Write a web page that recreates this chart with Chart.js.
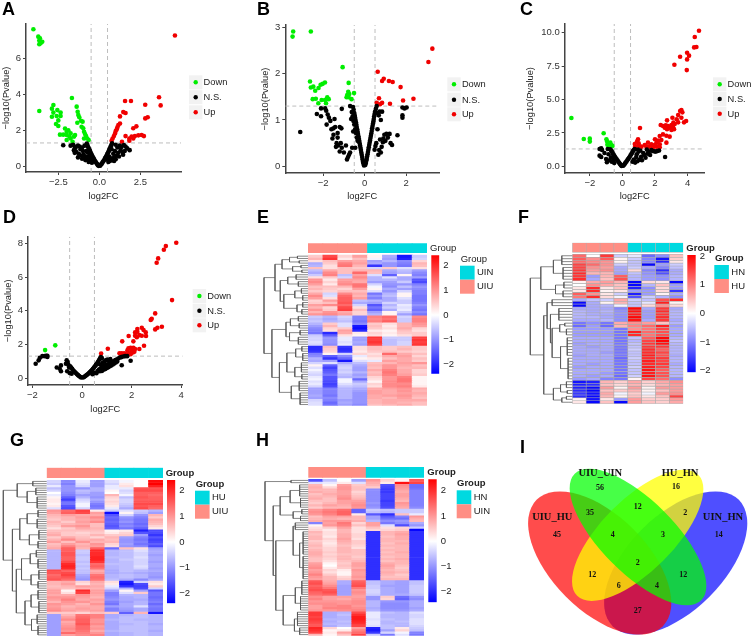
<!DOCTYPE html>
<html>
<head>
<meta charset="utf-8">
<style>
  html, body { margin: 0; padding: 0; background: #fff; }
  body { position: relative; width: 753px; height: 638px; overflow: hidden; }
  canvas { position: absolute; left: 0; top: 0; }
</style>
<script src="https://cdn.jsdelivr.net/npm/chart.js@4"></script>
</head>
<body>
<script>
// ---- volcano data: [log2FC, -log10(Pvalue)] ----
const downA = [[-4.02,7.6],[-3.72,7.19],[-3.62,7.1],[-3.66,6.97],[-3.48,6.91],[-3.58,6.82],[-3.66,6.77],[-3.66,3.07],[-2.8,3.4],[-2.89,3.2],[-2.56,3.12],[-2.36,2.98],[-2.8,2.98],[-2.36,2.79],[-2.89,2.75],[-2.6,2.79],[-2.5,2.55],[-2.64,2.35],[-2.5,2.24],[-2.4,1.76],[-2.2,1.76],[-2.09,2.1],[-1.89,2],[-1.99,1.92],[-1.75,1.83],[-1.99,1.74],[-1.83,1.65],[-1.48,1.74],[-1.54,1.65],[-1.99,1.46],[-1.75,1.55],[-1.63,1.37],[-1.67,3.79],[-1.38,3.31],[-1.32,3.03],[-1.28,2.85],[-1.22,2.72],[-1.34,2.42],[-1.12,2.53],[-1.02,2.48],[-1.08,2.2],[-.98,2.11],[-.93,1.92],[-.87,1.79],[-.81,1.68],[-.73,1.55],[-.93,1.55],[-.65,1.46]];
const nsA = [[-.04,.03],[-.09,.07],[-.13,.13],[-.18,.19],[-.22,.25],[-.27,.3],[-.31,.38],[-.35,.45],[-.39,.5],[-.43,.58],[-.47,.65],[-.51,.72],[-.55,.8],[-.58,.88],[-.62,.95],[-.66,1.03],[-.7,1.1],[-.73,1.18],[-.76,1.26],[.05,.04],[.1,.1],[.14,.14],[.19,.21],[.23,.27],[.28,.33],[.32,.4],[.36,.47],[.41,.53],[.45,.6],[.48,.68],[.53,.75],[.57,.83],[.6,.9],[.64,.98],[.67,1.06],[.71,1.13],[.75,1.2],[.78,1.28],[-2.2,1.17],[-1.75,1.15],[-1.6,1.2],[-1.5,1.1],[-1.45,1.02],[-1.55,.9],[-1.4,.8],[-1.3,1.15],[-1.2,1.1],[-1.15,.95],[-1.05,1.05],[-1,.85],[-1.25,.7],[-1.1,.6],[-.95,.65],[-.9,.5],[-.85,.35],[-1.05,.42],[-.8,.85],[-.75,.55],[-.7,.38],[-.65,.25],[-.6,.6],[-.55,.42],[-.5,.28],[-.45,.2],[-1.5,.75],[-1.3,.5],[-.9,1.15],[-.72,.78],[1,1.2],[1.1,1.05],[1.25,1.15],[1.35,1.08],[1.5,1.18],[1.6,1.1],[1.7,1],[1.85,.9],[1.55,.85],[1.4,.8],[1.3,.9],[1.15,.75],[1.05,.6],[.95,.85],[.9,.5],[.85,.7],[.8,.35],[.7,.45],[.65,.3],[.6,.55],[.55,.25],[.5,.38],[1.2,.55],[1.45,.65],[.9,.3],[1,.4],[.75,.95]];
const upA = [[4.61,7.25],[3.64,3.83],[3.74,3.38],[2.8,3.42],[1.93,3.62],[1.57,3.62],[1.46,3.01],[1.6,2.96],[1.26,2.77],[2.8,2.66],[2.95,2.72],[1.26,2.38],[1.16,2.29],[1.1,2.16],[1.06,2.05],[1,1.96],[.96,1.83],[.89,1.68],[.81,1.55],[.75,1.42],[2.07,2.11],[2.26,2.22],[1.6,1.68],[1.83,1.55],[1.97,1.65],[2.17,1.68],[2.38,1.72],[2.58,1.74],[2.72,1.68],[1.38,1.37],[1.83,1.42],[2.07,1.55]];

const downB = [[-3.44,2.91],[-3.47,2.8],[-2.59,2.91],[-1.06,2.14],[-2.63,1.83],[-2.59,1.7],[-2.47,1.72],[-2.38,1.63],[-2.22,1.69],[-2.12,1.76],[-2.02,1.78],[-1.91,1.81],[-.77,1.8],[-2.5,1.45],[-2.35,1.46],[-2.23,1.36],[-2.07,1.43],[-1.86,1.36],[-1.8,1.49],[-1.73,1.45],[-.79,1.61],[-.84,1.54],[-.77,1.49],[-.51,1.58],[-.63,1.45],[-.74,1.56],[-.87,1.49],[-1.91,1.43]];
const nsB = [[-.03,.02],[-.06,.06],[-.08,.1],[-.1,.15],[-.12,.2],[-.14,.25],[-.16,.3],[-.18,.35],[-.2,.4],[-.22,.45],[-.24,.5],[-.26,.55],[-.28,.6],[-.3,.65],[-.32,.7],[-.34,.75],[-.36,.8],[-.38,.85],[-.4,.9],[-.42,.95],[-.44,1],[-.46,1.05],[-.48,1.1],[-.5,1.15],[-.53,1.22],[-.56,1.28],[-.34,.55],[-.38,.62],[-.42,.72],[-.46,.8],[-.5,.9],[-.54,.98],[-.58,1.08],[-.62,1.17],[-.7,1.3],[-.45,.4],[-.55,.75],[-.65,1.02],[.03,.03],[.06,.07],[.08,.12],[.1,.16],[.12,.21],[.14,.26],[.16,.31],[.18,.36],[.2,.41],[.22,.46],[.24,.51],[.26,.56],[.28,.61],[.3,.66],[.32,.71],[.34,.76],[.36,.82],[.38,.87],[.4,.92],[.42,.97],[.44,1.02],[.46,1.08],[.48,1.13],[.5,1.18],[.54,1.24],[.58,1.3],[.48,.36],[.52,.44],[.56,.5],[.62,1.15],[.68,1.1],[.72,1.18],[.78,1],[.84,1.18],[.62,.8],[.74,.58],[.82,.42],[.88,.52],[.9,.6],[.95,.68],[1,.55],[1.05,.7],[1.12,.62],[1.2,.7],[1.25,.5],[1.32,.46],[1.58,.67],[.7,.35],[.66,.25],[.78,.3],[-.6,.4],[-.7,.3],[-.75,.25],[-.8,.2],[-.85,.15],[-.9,.45],[-1,.3],[-1.1,.4],[-1.15,.5],[-1.2,.32],[-1.3,.62],[-1.35,.5],[-1.3,.72],[-1.2,.85],[-1.12,.82],[-1.42,.85],[-1.5,.82],[-1.5,.68],[-1.55,.6],[-1.28,.45],[-1.38,.42],[-1.6,.8],[-1.45,1.02],[-1.65,.98],[-1.72,1.05],[-1.78,1.12],[-1.85,1.2],[-1.9,1.25],[-1.83,.9],[-2.1,1.25],[-2.3,1.13],[-2.1,1.08],[-3.1,.74],[1.82,1.27],[1.82,1.1],[1.82,1.05],[2.02,1.27],[1.92,1.25],[-1.1,1.24]];
const upB = [[3.26,2.54],[3.07,2.25],[.63,2.04],[.92,1.89],[.84,1.84],[1.17,1.84],[1.35,1.82],[1.73,1.71],[2.35,1.46],[1.85,1.42],[1.22,1.35],[.69,1.47],[.58,1.37],[.84,1.37],[.74,1.34]];

const downC = [[-3.13,3.62],[-2.37,2.04],[-2,2.07],[-2,1.85],[-1.15,2.47],[-.98,2.02],[-.94,1.85],[-.82,1.72],[-.92,1.62],[-.74,1.77],[-.67,1.6],[-.84,1.52],[-.72,1.47],[-.61,1.52]];
const nsC = [[-.05,.03],[-.1,.1],[-.15,.18],[-.2,.26],[-.25,.35],[-.3,.44],[-.35,.52],[-.4,.6],[-.45,.7],[-.5,.8],[-.55,.9],[-.6,1],[-.65,1.12],[-.7,1.2],[-.75,1.28],[.05,.04],[.1,.11],[.15,.2],[.2,.28],[.25,.36],[.3,.45],[.35,.54],[.4,.62],[.45,.72],[.5,.82],[.55,.92],[.6,1.02],[.65,1.14],[.7,1.22],[.75,1.3],[-1.4,1.3],[-1.3,1.35],[-1.25,1.22],[-1.4,.8],[-1.3,.7],[-1.1,1],[-1,.55],[-.9,1.3],[-.85,.9],[-.8,.45],[-.7,.68],[-.65,.35],[-.55,.5],[-.5,.25],[-.95,.3],[.62,.35],[.7,.5],[.78,.28],[.85,.7],[.92,.38],[1,1.1],[1.05,.5],[1.1,1.18],[1.15,.72],[1.2,.45],[1.28,1],[1.35,.85],[1.42,.65],[1.5,1.25],[1.55,.95],[1.62,1.08],[1.7,.85],[1.78,1.22],[1.85,1.15],[1.95,1.12],[2.05,1.1],[2.15,1.15],[2.25,1.18],[.88,.9],[.95,1.25],[2.62,.7]];
const upC = [[4.7,10.15],[4.44,9.68],[4.4,8.9],[4.54,8.93],[3.97,8.5],[4.09,8.28],[3.54,8.2],[3.97,8],[3.19,7.6],[3.95,7.2],[3.62,4.21],[3.54,4.14],[3.68,4.04],[3.42,3.84],[3.07,3.64],[3.33,3.52],[3.62,3.64],[2.74,3.44],[3.91,3.39],[3.78,3.29],[3.13,3.27],[3.42,3.29],[1.08,2.87],[2.35,3.09],[2.49,3.02],[2.66,3.07],[2.8,3.02],[3.01,3.09],[3.21,3.17],[2.6,2.89],[2.9,2.89],[3.11,2.92],[2.74,2.77],[3.01,2.72],[3.17,2.77],[2.49,2.39],[2.29,2.27],[2.7,2.29],[2.9,2.22],[2,2.02],[2.19,1.92],[2.39,1.97],[2.7,1.77],[2.09,1.77],[2.29,1.65],[1.57,1.77],[1.78,1.65],[1.98,1.6],[1.37,1.6],[1.17,1.47],[.96,2.02],[.9,1.85],[1,1.72],[.76,1.67],[1.02,1.52],[.78,1.47],[1.68,1.47],[2.09,1.47],[1.47,1.47],[1.88,1.42],[2.29,1.42]];

const downD = [[-1.49,1.66],[-1.08,1.94]];
const nsD = [[-1.87,.85],[-1.75,1.05],[-1.7,1.2],[-1.6,1.3],[-1.5,1.3],[-1.45,1.32],[-1.4,1.32],[-1.4,1.25],[-1.02,.62],[-.9,.55],[-.85,.4],[-.85,.75],[-.65,.85],[-.62,1.05],[-.58,.95],[-.55,.78],[-.6,.4],[-.52,.62],[-.48,.7],[-.44,.62],[-.4,.55],[-.36,.46],[-.32,.4],[-.28,.34],[-.24,.28],[-.2,.22],[-.16,.17],[-.12,.12],[-.08,.07],[-.04,.03],[-.5,.3],[-.42,.25],[.04,.03],[.08,.06],[.12,.1],[.16,.15],[.2,.19],[.24,.24],[.28,.3],[.32,.36],[.36,.42],[.4,.48],[.44,.55],[.48,.62],[.52,.7],[.56,.78],[.6,.86],[.64,.95],[.68,1.05],[.72,1.15],[.76,1.25],[.42,.22],[.5,.3],[.58,.28],[.62,.42],[.68,.5],[.74,.56],[.8,.62],[.86,.66],[.92,.72],[.98,.78],[1.04,.8],[1.1,.86],[1.16,.9],[1.22,.96],[1.28,1],[1.34,1.06],[1.4,1.1],[1.46,1.16],[1.52,1.22],[1.58,1.24],[1.66,1.28],[1.74,1.3],[1.82,1.3],[.72,.4],[.8,.42],[.88,.5],[.94,.54],[1,.6],[1.06,.64],[1.12,.7],[1.18,.74],[1.24,.8],[1.3,.86],[1.36,.92],[1.42,.98],[.84,.9],[.9,.98],[.96,1.05],[1.02,1.1],[1.08,1.02],[1.14,1.12],[.78,.78],[.72,.82],[.8,1.18],[1.6,.76],[1.96,1.03]];
const upD = [[3.8,8.04],[3.38,7.84],[3.3,7.62],[3.07,7.11],[3.01,6.85],[3.63,4.63],[2.95,3.84],[2.81,3.52],[2.77,3.45],[3.22,3.05],[3.04,2.99],[2.95,2.89],[2.41,2.99],[2.23,2.91],[2.48,2.85],[2.14,2.71],[2.57,2.71],[2.23,2.75],[2.31,2.55],[2.58,2.5],[2.14,2.51],[2.41,2.51],[1.88,2.5],[2.21,2.42],[1.62,2.18],[2.07,2.18],[2.5,1.92],[2.31,1.72],[1.04,1.74],[.77,1.45],[1.51,1.47],[1.6,1.47],[1.87,1.76],[1.96,1.8],[2.07,1.8],[1.83,1.64],[2,1.64],[2.14,1.72],[1.91,1.47],[2.05,1.52],[1.7,1.47],[1.8,1.41],[1.96,1.41],[2.11,1.56]];

const legendNames = ["Down", "N.S.", "Up"];

// ---- heatmap rows: z-scores per sample column, top to bottom ----
const heatE = [
[.5,1.7,.4,.9,.1,-.8,-2.2,-.5],[.7,1.9,.2,.6,-.1,-.9,-2.1,-.4],[.3,.6,.9,.8,-.9,-.7,-1.1,.4],[-.8,.5,1.2,.9,-.8,-1,-1.2,.7],[-.7,.3,1.3,.7,-1.9,-1,-1.3,.6],[.6,.3,.6,.5,-.4,.5,-.3,.3],[-.6,.8,.6,.7,.7,-.8,-.6,-.9],[-.8,1.1,.6,1.4,.6,-.9,-.7,-1.1],[-.5,1.2,-.6,.9,-.3,-1.5,.1,-1.2],[.3,.5,-.4,1.1,-.7,-.3,-.8,-.9],[1,.2,.9,.9,-.7,-.7,-.8,-1.6],[1.1,.4,1,.8,-.9,-.9,-.5,-1.7],[.9,.2,1.1,1.3,-.4,-1,-1,-1.2],[.6,.6,.7,1.3,-.1,-1.1,-.6,-1],[.7,.5,.4,.9,.1,-.8,-.9,-1.1],[.5,.4,.6,.6,-.3,-1,-.4,-1.2],[.8,-.4,1.1,.8,-1.3,-.7,.1,-1.2],[1.1,-.3,1.4,.7,-1,-.6,.1,-1.3],[.9,.3,1.5,.9,-1.2,-.8,-.3,-1.3],[.4,.9,1.5,-.6,-.7,-.8,-.5,-1.3],[.5,.6,1.6,-.8,-.9,-.4,-.5,-1.2],[.9,1.1,1.4,-.4,-1.6,-.7,-.2,-1],[.7,.4,1.7,.3,-1.3,-.5,-.3,-1.2],[1,.5,1.8,.6,-1.5,-.8,-.2,-1.3],[.7,1,.8,.4,-.9,.1,-.5,-1.1],[1,1.1,.9,.4,-.7,.1,-.9,-1.3],
[-.5,-.7,-.4,-1.2,1.2,1.4,-.4,1.1],[-.6,-.8,-.5,-1.2,1.1,1.3,-.5,1.2],[-.5,-.7,-.6,-1.3,1.2,1.5,-.5,1.2],[-.7,.5,-.3,-1.1,.5,.3,.7,1],[-.9,.7,-.3,-2.2,.6,.2,.7,.9],[-1.1,.4,.5,-2.3,.5,.3,.8,.4],[-1.2,.3,.9,-2,.2,.1,.6,.3],[-1.3,-2,.8,.2,.4,.2,.5,.5],[-.5,-1.5,.3,.1,.3,.1,.3,.5],[-.4,-1,-.2,-.9,1.9,-.5,-.5,1.8],[-.4,-1,-.2,-.9,1.8,-.6,-.5,1.9],[-.3,-1,-.3,-.8,1.9,-.6,-.4,1.8],[-.4,-1.1,-.2,-.9,1.7,-.6,-.4,1.9],
[-2,.6,-1.9,.3,.6,.5,.6,.5],[-2,.5,-2,.3,.6,.5,.7,.5],[-1.9,.4,-1.9,.2,.5,.6,.5,.4],[-1.2,.1,-.4,.4,.3,1.4,.8,.6],[-1.1,-1.5,-1.1,-.2,.4,.8,.9,.4],[-.7,-1.9,-1.4,.1,.2,.6,.8,.6],[-.8,-.9,-2.2,-.3,-.2,.9,.8,.5],[-.4,-.3,-.8,-.6,.6,.7,.9,1],[.1,-1.5,-.5,-.8,.7,1,.8,.6],[-.3,-1.8,-.4,-.9,.6,1,.7,.7],[-.1,-1.6,-.5,-.9,.8,1.2,.8,.4],[-.3,-1.5,-.4,-.7,.6,1.3,.8,.4],[-.4,-1.3,-.6,-.9,.7,1.2,.9,.5],[-.2,-1.6,-.7,-.8,.4,1,1.2,.1],[-.1,-1.6,-.1,-1.4,.3,1,1.3,.1],[-.3,-1.7,-.1,-.8,.1,1.1,1.3,.1],[-.2,-1.8,-.3,-.5,.4,1.1,1.1,.1],[-.4,-1.7,-.5,-.6,.3,1.1,1.2,.2],[-.9,-1.2,-.7,-.8,.8,.9,1,.8],[-.9,-1.2,-.7,-.9,.9,.8,1,.7],[-.9,-1.2,-.7,-1,.9,.8,.9,.8],[-.8,-1.3,-.7,-1,.8,.9,1,.7],[-.9,-1.1,-.7,-1,.8,.7,.9,.6],[-.4,-1.2,-.9,-1,.7,.8,.8,.8],[-.3,-1.4,-.8,-1,.7,.8,.7,.6],[-.3,-1.3,-.9,-1.1,.6,.7,.8,.6]];
const treeE = [100,
  [75,[59,[42,[24,2],[20,2]],[35,[16,2],[14,2]]],[63,[46,[27,3],[22,3]],[55,[30,[15,3],[12,3]],[25,[12,3],[14,3]]]]],
  [82,[50,[40,[22,3],[20,3]],[42,[18,3],[22,4]]],[65,[48,[28,[14,3],[12,4]],[30,[15,5],[14,3]]],[38,[20,5],[18,6]]]]];

const heatF = [
[1.2,0,1.6,-.4,-.2,-1.2,-.9,.5],[1.3,.9,1.3,.1,-.4,-1,-1.9,.4],[1.2,1,.9,.1,-.5,-1,-1.7,.2],[1.5,1.2,.9,-.4,-.5,-2,-.8,-.4],[1.5,.9,.8,-.7,-.4,-.7,-1,-.5],[1.6,.8,.9,-.7,.3,-1,-1.7,-.7],[1.7,.6,.6,-.8,-.5,-.9,-1.4,-.7],[1.6,-.8,.6,1.3,-.6,-.8,-.9,-.6],[1.7,-.7,.5,1.4,-.6,-.8,-.9,-.6],[.1,.7,.8,.6,-2,.3,.2,-2],[0,.9,.7,.5,-2,-.6,.5,-.8],[.2,1.7,.2,.5,-1.8,-.9,.3,-.8],[.2,1.7,.1,.2,-.8,-.8,.3,-1.6],[1.3,.9,.2,-.4,-1.8,-.8,.1,-.7],[1.1,1.7,.3,-.1,-1.4,-.4,-.6,-.9],
[-.7,-.5,-.4,.7,-.4,-.5,1.4,1.7],[-2,-.7,.1,.6,-.5,-.2,1.8,.1],[-2,-.7,-.6,-.1,-.5,.3,.9,.3],[-.7,-.7,-.7,-1,2,-.7,1.6,-.7],[-.6,-.7,-.6,-.9,1.9,-.8,1.7,-.6],[-.6,-.7,-.7,-.9,1.8,-.8,1.6,-.6],[-.6,-.6,-.7,-.9,2,-.8,1.7,-.6],[-.7,-.7,-.6,-.9,1.9,-.7,1.6,-.7],[-1.1,-.9,-1.1,.7,.9,.8,.5,-.6],[-1.2,-.8,-1.2,.6,1,1.2,1.8,-.8],[-.8,-.8,-.8,-1.1,.9,1.1,1.5,-.7],[-.8,-.8,-.8,-1.1,1.8,1.2,1.4,-.7],[-.8,-.8,-.8,-1.1,1.7,1.1,1.4,-.7],
[-.7,-.7,-.7,-1.1,-.5,1.3,2,-.6],[-.7,-.7,-.7,-1.1,-.6,1.5,2,-.5],[-.8,-.7,-.7,-1.1,-.5,1.6,1.9,-.6],[-.7,-.8,-.7,-1.1,-.5,1.6,1.6,-.6],[-.7,-.7,-.7,-1.1,-.4,1.7,1.3,-.6],[-.7,-.7,-.8,-1.1,-.5,1.7,1.5,-.6],[-.8,-.7,-.7,-1.1,-.5,1.8,1.4,-.7],[-.7,-.7,-.7,-1.2,-.4,1.7,1.6,-.6],[-.7,-.7,-.7,-1.1,-.5,1.8,1.5,-.6],[-.7,-.8,-.7,-1.1,-.5,1.7,1.6,-.7],[-.8,-.7,-.7,-1.1,-.4,1.8,1.5,-.6],[-.7,-.7,-.7,-1.1,-.5,1.9,1.3,-.6],[-.7,-.7,-.8,-1.1,-.5,1.8,1.4,-.6],[-.7,-.8,-.7,-1.2,-.4,1.9,1.4,-.6],[-.8,-.7,-1,-1.1,.1,1.5,1.2,-.9],
[-1.9,-1.8,.6,.4,.7,.4,.7,.9],[-1.8,-1.7,.5,.3,.6,.3,.6,.8],[-1.8,-2,.8,.1,.8,.1,.8,.8],[-1.7,-2,.5,.4,.6,.1,.5,.8],[-1.6,-1.9,.7,-.1,.4,-.1,.8,.9],[-1.7,-2,.6,.1,.5,.2,.5,1.5],[.1,-1.9,.2,-.8,.8,.4,.4,.8],[.2,-2,.5,-2,.8,.5,.4,.7]];
const treeF = [100,
  [75,[45,[25,4],[22,5]],[40,[20,3],[22,3]]],
  [68,[60,[48,3],[52,[32,5],[48,[30,[18,2],[14,3]],[28,[12,7],[10,8]]]]],[45,[28,[14,3],[12,2]],[25,[14,2],[10,1]]]]];

const heatG = [
[-.4,-1.1,-.2,-.9,-.3,-.1,0,2.3],[-.5,-1.2,-.3,-.9,-.4,.2,0,2.4],[-.2,-1,-.4,-.9,-.2,.3,0,2.1],[-.6,-1,-1,-.7,-.2,-.2,1.6,1.6],[-.4,-1,-.6,-.7,.1,-.4,1.7,1.7],[0,-1.1,-.7,-.9,0,-.3,1.5,1.5],[-.2,-1.2,-.9,-.9,.7,-.1,1.5,1.4],[.1,-1.5,-.7,-1,.4,-.6,1.6,1.5],[.2,-1.8,-.4,-.8,.3,-.4,1.5,1.5],[.2,-1.4,-.3,-1,.4,-.4,1.6,1.6],[.1,-1.3,-.1,-1.2,.3,-.5,1.7,1.7],[.2,-1.6,-.1,-1.3,.2,-.6,1.6,1.5],[-.3,-1.7,-.4,-1.2,-.2,-.8,1.7,1.4],
[1,1.4,1.8,.2,-.5,-.3,-.5,-.7],[.9,1.5,1.7,.9,-2.3,.1,-.6,-.9],[.7,.9,.8,.8,-1.6,-.4,-1,.7],[.6,.7,.9,1.1,-1.4,-1,-1.2,.5],[.5,.7,.8,.9,-1.5,-1.1,-1.3,.8],[.7,.5,.9,1.1,-1.4,-1,-1.3,.7],[.6,.7,.8,.6,-1.5,-1.2,-1.4,.6],[.5,.9,1,.6,-1.6,-1.1,-1.3,.4],[.3,.5,.8,.7,-1.5,-1.3,-1.5,.2],[.6,.6,.6,.6,.1,.2,-2.1,-1.7],[.7,.5,.4,.5,.2,.4,-1.6,-1.7],[.8,.5,.5,.7,.5,.5,-.9,-1.9],[.5,.8,.6,.4,.7,-.9,-1.2,-1.6],[.7,1.1,.7,.8,.6,-1,-1.3,-1.8],[.9,.6,1,.7,.7,-1,-1.2,-1.7],[.6,.9,.7,1,.4,-.9,-1.3,-1.5],[.7,1.2,.8,.9,.3,-1,-1.1,-1.7],[.8,1.5,.7,1.5,-1.4,.6,.3,-.9],
[-.7,1.5,-.5,2,-.7,-.6,-.3,-.8],[-.7,1.6,-.5,2,-.7,-.6,-.4,-.8],[-.7,1.6,-.6,2,-.7,-.6,-.4,-.9],[-.7,1.5,-.5,2.1,-.6,-.6,-.3,-.8],[-.7,1.5,-.5,2.1,-.7,-.5,-.4,-.8],[-.7,1.7,-.6,1.9,-.7,-.6,-.4,-.9],[-.7,2,-.5,1.4,-.6,-.6,-.4,-.8],[-.7,2.1,-.6,1.5,-.7,-.6,-.3,-.8],[-.7,2,-.5,1.3,-.7,-.6,-.4,-.9],
[1.7,1.5,-.6,.8,-.8,-.6,-.7,-.8],[1.6,1.7,-.6,.9,-.8,-.7,-.8,-.9],[1.4,1.8,-.8,1.3,-.7,-.6,-.7,-.9],[1.5,1.6,-.9,1.4,-.7,-.6,-.7,-1],[1.6,1.4,-1,1.3,-.6,-.8,-1.1,-.8],
[.7,.8,.4,.8,.3,-2.1,-.4,.3],[.7,.9,.3,.7,.2,-2.2,-1.7,.2],[.6,.7,.9,.8,-.2,-1.9,-1.8,.5],[.7,.6,.7,.7,-.4,-.7,-1.7,-.4],
[.9,.1,2,.9,-.9,.1,-.9,-1.6],[.9,.3,1.8,.9,-1.2,-.3,.5,-1.3],[.8,.8,1,.8,-1.2,-.7,-.7,-1.3],[1,1,.9,.7,-1.1,-.8,-.7,-1.4],[.9,1.2,.8,.9,-1,-.8,-.8,-1.3],[.7,1,1,.8,-1.2,-.9,-.7,-1.2],[1,.9,.7,1,-1.3,-.8,-.7,-1.4],[.9,.7,.8,.8,-.9,-.8,-.3,-1.2],[1,.8,.9,.8,-1.2,-.9,-.8,-1.3],[1.1,.9,.8,.9,-1.2,-1,-.8,-1.3],[.5,.5,.4,.6,.5,-1.5,.7,-2.2],
[-.9,.7,1.3,1.2,-.8,-.7,-.6,-.7],[-.9,.9,1.4,1.2,-.8,-.6,-.6,-.7],[-.9,1.1,1.5,1,-.7,-.6,-.7,-.7],[-.9,.8,1.5,1,-.8,-.6,-.6,-.7],[-.9,.9,1.6,1.1,-.8,-.7,-.6,-.8],[-.9,1,1.4,.9,-.8,-.6,-.6,-.7],[-.9,1.1,1.4,1,-.8,-.6,-.6,-.7],[-.9,1,1.3,.8,-.7,-.6,-.6,-.8],[-.9,1.4,1.2,1,-.8,-.7,-.6,-.7],[-.9,.9,1.1,1.2,-.8,-.7,-.6,-.7]];
const treeG = [100,
  [68,[32,3],[45,[25,4],[22,6]]],
  [79,[62,[45,[20,4],[22,5]],[40,[18,5],[20,4]]],[70,[58,[38,[24,4],[20,5]],[36,[18,5],[20,4]]],[50,[36,[20,5],[18,6]],[35,[22,5],[20,5]]]]]];

const heatH = [
[-1.7,-.6,0,-.9,1,.4,.1,1.6],[-.3,-.2,.2,-.3,.8,.2,2.3,1.8],
[.7,.1,.9,.5,.7,-1.7,1.1,-1.4],[.8,.4,1,.6,.5,-1.8,1,-1.4],[.7,.7,1,.6,-1.1,-1.9,.9,-1.3],[.8,.7,.9,.4,-1.1,-1.9,.8,-1.2],[.6,.8,.9,.5,-1.1,-1.8,.9,-1.2],[.7,.7,1,.6,-1.1,-1.8,.9,-1.2],[.8,.6,1.1,.7,-1.1,-1.8,.8,-1.2],[.6,.6,.9,.9,-1.1,-1.9,.7,-1.2],[.5,.7,.9,1,-1,-1.8,1,-1.2],[.7,.9,.8,1.1,-1.1,-1.8,.9,-1.2],[.5,.7,.7,1,-1,-1.7,.8,-1.1],
[1,1.2,1.4,-1.5,-.5,-.6,-.5,-.5],[1.1,1.3,1.5,-1.5,-.6,-.7,-.5,-.5],[1,1.2,1.5,.2,-1.6,-2,.6,-.2],
[.6,.9,.9,.7,-.9,-1.6,-1.2,1],[.7,.8,.7,.7,-.9,-1.4,-1.4,.8],[.8,1,1,.8,-.7,-1.1,-1,.7],
[-1.2,.9,1.3,.4,.9,-1.3,-1.1,-.8],[.1,1,1.2,.6,.9,-.3,-1.7,-1],[.3,.5,.9,.3,.6,.3,.4,-.5],[.4,.2,.7,.3,.4,.4,.5,-2.4],
[.7,.3,.7,.3,-2,.7,.8,-2],[.6,.3,.8,.4,-2,.7,.9,-2],[.7,.2,.8,.4,-2,.6,.8,-2],[.7,.4,.9,.3,-2,.7,.8,-2],[.5,.3,.8,.5,-2,.7,.7,-2],[.6,.2,.7,.5,-2,.6,.8,-2],[.7,.3,.6,.4,-2,.7,.7,-2],[.6,.4,.7,.3,-2,.6,.7,-2],[.7,.4,.7,.6,-2,.7,.7,-2],[.8,.5,.7,.6,-2,.6,.8,-2],[.8,.4,.6,.6,-2,.7,.7,-2],[.7,.5,.7,.5,-2,.6,.7,-2],[.6,.4,.7,.6,-2,.7,.8,-2],[.6,.3,.6,.7,-2,.6,.7,-2],[.9,.1,.5,.9,-2,.8,.7,-2],[1,0,.6,.9,-2,.9,.6,-2],[1.1,.2,.5,.8,-2,.8,.5,-2],[.9,.4,.2,1,-2,.7,.6,-2],[1,.3,.1,.9,-2,.8,.7,-2],[1.2,.5,.1,.9,-2,.7,.5,-2],[1,.7,.4,1,-2,.6,.6,-2],[.9,.7,.5,.9,-2,.7,.7,-2],
[1.6,.8,-.8,1.5,-.6,-.8,-.9,-.6],[1.7,.9,-.8,1.6,-.6,-.8,-.9,-.6],[1.5,1.1,-.9,1.7,-.5,-.9,-.9,-.5],[1.6,1.3,-.9,1.3,-.5,-.8,-.9,-.5],[1.7,1.6,-.9,1,-.4,-.8,-.9,-.5],[1.5,1.7,-.9,1.1,-.4,-.8,-.9,-.5],[1.4,1.5,-.9,1,-.5,-.8,-.8,-.6],
[1.1,.9,.9,.9,-1,.5,-1.4,-1],[1.2,.9,.8,1,-1,.4,-1.5,-1.1],[1,1,1,1.1,-.7,-1,-1,-.8],[1.1,1.1,1,1.1,-.7,-1.1,-1.1,-.8],[.9,1.1,1.2,1,-.7,-1.1,-1.1,-.8],[.9,1.2,1.2,1.1,-.8,-1.1,-1.1,-.9],[1,1,1.1,1.2,-.7,-1,-1,-.8],
[1.9,-.8,-.7,1.7,-.2,-.6,-.7,-.3],[1.9,-.8,-.6,2,-.2,-.7,-.7,-.4],[1.8,-.8,-.7,2.2,-.2,-.7,-.7,-.4],[1.9,-.7,-.7,2.2,-.3,-.6,-.7,-.3],[1.8,-.8,-.6,2.1,-.2,-.7,-.6,-.3],[1.7,-.7,-.7,2,-.2,-.7,-.7,-.3],[1.6,-.8,-.6,1.8,-.3,-.6,-.7,-.4],
[2.1,.4,0,.9,-2.1,-.6,.2,-.5],[2,.1,.2,1.2,-2.2,-.9,.4,-.6],[1.8,.2,.9,1.4,-1.9,-.4,-.1,-1.2],[.7,.1,.6,1.8,-.5,-1.3,-.3,-1.3]];
const treeH = [100,
  [40,2],
  [81,[65,[42,[20,6],[18,5]],[35,[15,3],[18,3]]],
      [75,[35,[30,4],[20,[12,11],[12,11]]],[58,[30,[15,7],[18,7]],[32,[25,7],[20,4]]]]]];

// ---- venn data ----
const vennNames = ["UIU_HU", "UIU_UIN", "HU_HN", "UIN_HN"];
const vennCounts = [45, 56, 16, 14, 35, 12, 2, 4, 3, 12, 2, 12, 6, 4, 27];

// ---- colours ----
const SALMON = "#FF8E84";
const CYAN = "#00D9E0";
const AXIS = "#444444";

// everything below is layout and drawing
const W = 753, H = 638;
const SANS = "'Liberation Sans', Arial, sans-serif";
const SERIF = "'Liberation Serif', 'Times New Roman', serif";

function addCanvas() {
  const c = document.createElement("canvas");
  c.width = W;
  c.height = H;
  document.body.appendChild(c);
  return c;
}

function label(ctx, str, x, y, font, color, align) {
  ctx.save();
  ctx.font = font;
  ctx.fillStyle = color || "#333";
  ctx.textAlign = align || "left";
  ctx.textBaseline = "middle";
  ctx.fillText(str, x, y);
  ctx.restore();
}

function minus(s) {
  return String(s).replace("-", "\u2212");
}

function toXY(list) {
  return list.map((p) => ({ x: p[0], y: p[1] }));
}

function volcano(o) {
  const pad = {
    left: o.yTitleX - 5.6,
    top: o.area.top,
    right: W - o.area.right,
    bottom: H - (o.xTitleY + 5.6),
  };
  const dots = (list, color) => ({
    data: toXY(list),
    backgroundColor: color,
    borderWidth: 0,
    pointRadius: 2.3,
    clip: false,
  });
  const dash = (list) => ({
    data: toXY(list),
    showLine: true,
    pointRadius: 0,
    borderColor: "#bdbdbd",
    borderWidth: 1,
    borderDash: [4, 3],
  });
  const axis = (range, ticks, digits, title, fit) => ({
    type: "linear",
    min: range[0],
    max: range[1],
    afterBuildTicks: (s) => { s.ticks = ticks.map((v) => ({ value: v })); },
    afterFit: fit,
    grid: { drawOnChartArea: false, drawTicks: true, tickLength: 3, color: AXIS, lineWidth: 1 },
    border: { display: true, color: AXIS, width: 1.5 },
    ticks: {
      padding: 2,
      color: "#333",
      font: { family: SANS, size: 9.5 },
      maxRotation: 0,
      callback: (v) => minus(v.toFixed(digits)),
    },
    title: { display: true, text: title, color: "#222", padding: 0, font: { family: SANS, size: 9.3 } },
  });
  new Chart(addCanvas(), {
    type: "scatter",
    data: {
      datasets: [
        dots(o.ns, "#000"),
        dots(o.down, "#00EE00"),
        dots(o.up, "#F00000"),
        dash([[-.5, o.yRange[0]], [-.5, o.yRange[1]]]),
        dash([[.5, o.yRange[0]], [.5, o.yRange[1]]]),
        dash([[o.xRange[0], 1.3], [o.xRange[1], 1.3]]),
      ],
    },
    options: {
      responsive: false,
      animation: false,
      layout: { padding: pad },
      plugins: { legend: { display: false }, tooltip: { enabled: false } },
      scales: {
        x: axis(o.xRange, o.xTicks, o.xDigits, "log2FC", (s) => { s.height = H - pad.bottom - o.area.bottom; }),
        y: axis(o.yRange, o.yTicks, o.yDigits, "\u2212log10(Pvalue)", (s) => { s.width = o.area.left - pad.left; }),
      },
    },
    plugins: [{
      id: "decor",
      afterDraw(chart) {
        const ctx = chart.ctx;
        const colors = ["#00EE00", "#000", "#F00000"];
        legendNames.forEach((name, i) => {
          const top = o.legend.y[i];
          ctx.fillStyle = "#F2F2F2";
          ctx.fillRect(o.legend.x, top, 13.4, 14);
          ctx.beginPath();
          ctx.fillStyle = colors[i];
          ctx.arc(o.legend.x + 6.7, top + 7, 2.2, 0, Math.PI * 2);
          ctx.fill();
          label(ctx, name, o.legend.x + 14.6, top + 7.3, "9.3px " + SANS, "#222");
        });
        label(ctx, o.letter, o.letterAt[0], o.letterAt[1], "bold 18px " + SANS, "#000");
      },
    }],
  });
}

function heatColor(v, lim) {
  const t = Math.max(-1, Math.min(1, v / lim));
  if (t >= 0) {
    const c = Math.round(255 * (1 - t));
    return `rgb(255,${c},${c})`;
  }
  const c = Math.round(255 * (1 + t));
  return `rgb(${c},${c},255)`;
}

// tree node: [height, child, child]; [height, k] is a comb of k leaf rows joined at that height
function treeSegments(tree) {
  const pts = [];
  let row = 0;
  const seg = (x1, y1, x2, y2) => pts.push({ x: x1, y: y1 }, { x: x2, y: y2 }, { x: null, y: null });
  const walk = (n) => {
    if (n.length === 2) {
      const first = row;
      for (let k = 0; k < n[1]; k++) {
        seg(0, row + .5, n[0], row + .5);
        row++;
      }
      if (n[1] > 1) seg(n[0], first + .5, n[0], row - .5);
      return [(first + row) / 2, n[0]];
    }
    const a = walk(n[1]);
    const b = walk(n[2]);
    seg(n[0], a[0], n[0], b[0]);
    seg(n[0], a[0], a[1], a[0]);
    seg(n[0], b[0], b[1], b[0]);
    return [(a[0] + b[0]) / 2, n[0]];
  };
  walk(tree);
  return pts;
}

function heatPanel(o) {
  const L = o.box;
  const n = o.rows.length;
  const rowH = (L.heatB - L.heatT) / n;
  const yMin = -(L.heatT - L.annT) / rowH;
  const annEnd = -(L.heatT - L.annB) / rowH;
  const edge = o.border ? { borderColor: "#ababab", borderWidth: .6, borderSkipped: false } : { borderWidth: 0 };
  const cols = ["1", "2", "3", "4", "5", "6", "7", "8"];

  const rowSets = o.rows.map((row, i) => ({
    data: row.map(() => [i, i + 1]),
    backgroundColor: row.map((v) => heatColor(v, o.lim)),
    ...edge,
  }));
  rowSets.push({
    data: cols.map(() => [yMin, annEnd]),
    backgroundColor: cols.map((c, i) => (i < 4 ? SALMON : CYAN)),
    ...edge,
  });

  new Chart(addCanvas(), {
    type: "bar",
    data: { labels: cols, datasets: rowSets },
    options: {
      responsive: false,
      animation: false,
      layout: { padding: { left: L.heatL, top: L.annT, right: W - L.heatR, bottom: H - L.heatB } },
      plugins: { legend: { display: false }, tooltip: { enabled: false } },
      datasets: { bar: { barPercentage: 1, categoryPercentage: 1, grouped: false } },
      scales: {
        x: { display: false },
        y: { display: false, type: "linear", reverse: true, min: yMin, max: n },
      },
    },
    plugins: [{
      id: "decor",
      afterDraw(chart) {
        const ctx = chart.ctx;
        const bold = o.boldGroup ? "bold " : "";
        label(ctx, "Group", o.groupAt[0], o.groupAt[1], bold + "9.5px " + SANS, "#222");
        label(ctx, "Group", o.keyAt[0], o.keyAt[1], bold + "9.5px " + SANS, "#222");
        [CYAN, SALMON].forEach((c, i) => {
          ctx.fillStyle = c;
          ctx.fillRect(o.keyBox[0], o.keyBox[1] + i * 14, 14.6, 14);
          label(ctx, o.groups[i], o.keyBox[0] + 17, o.keyBox[1] + 7 + i * 14, "9.5px " + SANS, "#222");
        });
        label(ctx, o.letter, o.letterAt[0], o.letterAt[1], "bold 18px " + SANS, "#000");
      },
    }],
  });

  // dendrogram
  new Chart(addCanvas(), {
    type: "scatter",
    data: {
      datasets: [{
        data: treeSegments(o.tree),
        showLine: true,
        spanGaps: false,
        pointRadius: 0,
        borderColor: "#555",
        borderWidth: .7,
        clip: false,
      }],
    },
    options: {
      responsive: false,
      animation: false,
      layout: { padding: { left: L.rootX, top: L.heatT, right: W - L.heatL, bottom: H - L.heatB } },
      plugins: { legend: { display: false }, tooltip: { enabled: false } },
      scales: {
        x: { display: false, type: "linear", reverse: true, min: 0, max: 100 },
        y: { display: false, type: "linear", reverse: true, min: 0, max: n },
      },
    },
  });

  // colour bar
  new Chart(addCanvas(), {
    type: "bar",
    data: {
      labels: ["z"],
      datasets: [{
        data: [[o.barRange[0], o.barRange[1]]],
        barPercentage: 1,
        categoryPercentage: 1,
        borderWidth: 0,
        backgroundColor(c) {
          const y = c.chart.scales.y;
          const top = y.getPixelForValue(o.barRange[1]);
          const bottom = y.getPixelForValue(o.barRange[0]);
          if (!isFinite(top) || !isFinite(bottom)) return "#fff";
          const g = c.chart.ctx.createLinearGradient(0, top, 0, bottom);
          g.addColorStop(0, "rgb(255,0,0)");
          g.addColorStop((top - y.getPixelForValue(0)) / (top - bottom), "#fff");
          g.addColorStop(1, "rgb(0,0,255)");
          return g;
        },
      }],
    },
    options: {
      responsive: false,
      animation: false,
      layout: { padding: { left: L.barL, top: L.barT, right: W - L.barR - 24, bottom: H - L.barB } },
      plugins: { legend: { display: false }, tooltip: { enabled: false } },
      scales: {
        x: { display: false },
        y: {
          type: "linear",
          position: "right",
          min: o.barRange[0],
          max: o.barRange[1],
          afterFit: (s) => { s.width = 24; },
          afterBuildTicks: (s) => { s.ticks = [-2, -1, 0, 1, 2].map((v) => ({ value: v })); },
          grid: { display: false, drawTicks: false },
          border: { display: false },
          ticks: {
            padding: 4,
            color: "#222",
            font: { family: SANS, size: 9.5 },
            callback: (v) => minus(v),
          },
        },
      },
    },
  });
}

function vennPanel() {
  // ellipses in panel units, same as the page box of this panel
  const shapes = [
    { c: "rgba(30,30,255,.78)", x: 675.7, y: 563, a: 89.3, b: 47.7, r: -45 },
    { c: "rgba(255,0,0,.7)", x: 599.7, y: 563, a: 89.3, b: 47.7, r: 45 },
    { c: "rgba(255,255,0,.75)", x: 637.7, y: 535.3, a: 85.6, b: 36, r: -45 },
    { c: "rgba(0,255,0,.72)", x: 638, y: 537, a: 89.5, b: 36.5, r: 45 },
  ];
  const nameAt = [[552.3, 517], [600.3, 473.7], [680, 473.7], [723, 517]];
  const countAt = [[557, 535.3], [600, 487.7], [676, 487.3], [718.7, 535.3], [590, 512.7], [637.7, 507.3], [685.3, 512.7], [612.7, 535.3], [663, 535.3], [592.3, 575.3], [637.7, 563], [683.3, 575.3], [618.7, 586], [657, 585.7], [637.7, 610.7]];
  new Chart(addCanvas(), {
    type: "scatter",
    data: { datasets: [{ data: toXY(countAt), pointRadius: 0 }] },
    options: {
      responsive: false,
      animation: false,
      layout: { padding: 0 },
      plugins: { legend: { display: false }, tooltip: { enabled: false } },
      scales: {
        x: { display: false, type: "linear", min: 0, max: W },
        y: { display: false, type: "linear", reverse: true, min: 0, max: H },
      },
    },
    plugins: [{
      id: "venn",
      beforeDatasetsDraw(chart) {
        const ctx = chart.ctx;
        const { x, y } = chart.scales;
        shapes.forEach((s) => {
          ctx.beginPath();
          ctx.fillStyle = s.c;
          ctx.ellipse(x.getPixelForValue(s.x), y.getPixelForValue(s.y), s.a, s.b, s.r * Math.PI / 180, 0, Math.PI * 2);
          ctx.fill();
        });
      },
      afterDatasetsDraw(chart) {
        const ctx = chart.ctx;
        const { x, y } = chart.scales;
        vennNames.forEach((t, i) => {
          label(ctx, t, x.getPixelForValue(nameAt[i][0]), y.getPixelForValue(nameAt[i][1]), "bold 10.5px " + SERIF, "#111", "center");
        });
        vennCounts.forEach((t, i) => {
          label(ctx, t, x.getPixelForValue(countAt[i][0]), y.getPixelForValue(countAt[i][1]), "bold 8px " + SERIF, "#111", "center");
        });
        label(ctx, "I", 520, 448, "bold 18px " + SANS, "#000");
      },
    }],
  });
}

volcano({
  letter: "A", letterAt: [2, 10],
  area: { left: 26, right: 181, top: 24, bottom: 172 },
  xRange: [-4.47, 4.98], yRange: [-.31, 7.89],
  xTicks: [-2.5, 0, 2.5], xDigits: 1, yTicks: [0, 2, 4, 6], yDigits: 0,
  down: downA, ns: nsA, up: upA,
  yTitleX: 6.7, xTitleY: 196,
  legend: { x: 189, y: [75.3, 90.2, 105.3] },
});
volcano({
  letter: "B", letterAt: [257, 10],
  area: { left: 285.3, right: 439, top: 25, bottom: 173 },
  xRange: [-3.82, 3.58], yRange: [-.144, 3.05],
  xTicks: [-2, 0, 2], xDigits: 0, yTicks: [0, 1, 2, 3], yDigits: 0,
  down: downB, ns: nsB, up: upB,
  yTitleX: 265, xTitleY: 196,
  legend: { x: 447.3, y: [77.3, 92.7, 107.3] },
});
volcano({
  letter: "C", letterAt: [520, 10],
  area: { left: 564.7, right: 704.7, top: 24, bottom: 173 },
  xRange: [-3.54, 5.05], yRange: [-.5, 10.65],
  xTicks: [-2, 0, 2, 4], xDigits: 0, yTicks: [0, 2.5, 5, 7.5, 10], yDigits: 1,
  down: downC, ns: nsC, up: upC,
  yTitleX: 530, xTitleY: 196,
  legend: { x: 713, y: [77.3, 92, 106.7] },
});
volcano({
  letter: "D", letterAt: [3, 218],
  area: { left: 28, right: 182.7, top: 236.7, bottom: 385 },
  xRange: [-2.18, 4.06], yRange: [-.416, 8.4],
  xTicks: [-2, 0, 2, 4], xDigits: 0, yTicks: [0, 2, 4, 6, 8], yDigits: 0,
  down: downD, ns: nsD, up: upD,
  yTitleX: 8, xTitleY: 409,
  legend: { x: 192.7, y: [289, 303.7, 318.3] },
});

heatPanel({
  letter: "E", letterAt: [257, 218],
  rows: heatE, tree: treeE, lim: 2.4, barRange: [-2.38, 2.42],
  groups: ["UIN", "UIU"], boldGroup: false,
  box: { rootX: 264, heatL: 308, heatR: 427, annT: 243.3, annB: 252.7, heatT: 255, heatB: 405.7, barL: 431.3, barR: 439.3, barT: 255.3, barB: 373.7 },
  groupAt: [430, 248], keyAt: [460.7, 259], keyBox: [460, 265.7],
});
heatPanel({
  letter: "F", letterAt: [518, 218],
  rows: heatF, tree: treeF, lim: 2.05, barRange: [-2.06, 2.04], border: true,
  groups: ["HN", "HU"], boldGroup: true,
  box: { rootX: 530.3, heatL: 572.3, heatR: 683.3, annT: 242.7, annB: 252.3, heatT: 254.3, heatB: 403.7, barL: 687.3, barR: 695.7, barT: 255, barB: 372.3 },
  groupAt: [686.3, 248], keyAt: [715, 258.3], keyBox: [714.3, 265],
});
heatPanel({
  letter: "G", letterAt: [10, 441],
  rows: heatG, tree: treeG, lim: 2.4, barRange: [-2.39, 2.42],
  groups: ["HU", "UIU"], boldGroup: true,
  box: { rootX: 3.3, heatL: 46.7, heatR: 163, annT: 467.7, annB: 477.7, heatT: 480.3, heatB: 636, barL: 167, barR: 175.3, barT: 480, barB: 603.3 },
  groupAt: [165.7, 473], keyAt: [195.7, 484], keyBox: [195, 490.7],
});
heatPanel({
  letter: "H", letterAt: [256, 441],
  rows: heatH, tree: treeH, lim: 2.45, barRange: [-2.42, 2.45],
  groups: ["HN", "UIN"], boldGroup: true,
  box: { rootX: 265, heatL: 308.3, heatR: 424, annT: 467, annB: 477.3, heatT: 479.3, heatB: 635.7, barL: 428.3, barR: 436.7, barT: 479.3, barB: 602.3 },
  groupAt: [427.3, 472.7], keyAt: [457, 483.7], keyBox: [456.7, 490.3],
});
vennPanel();
</script>
</body>
</html>
